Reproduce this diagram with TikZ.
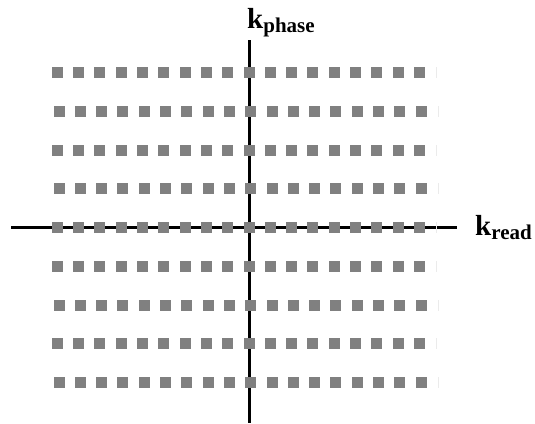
\documentclass[tikz,border=0pt]{standalone}
\usepackage{fontspec}
\setmainfont{Liberation Serif}
\tikzset{
  axis/.style={line width=3pt, black},
  sample/.style={fill=gray!100!white, fill=black!50},
  stub/.style={fill=black!8},
  lbl/.style={inner sep=0pt, anchor=base west, font=\bfseries}
}
\begin{document}
\begin{tikzpicture}[x=1pt,y=-1pt]
\useasboundingbox (0,0) rectangle (535,423);
\coordinate (hl) at (11,227);
\coordinate (hr) at (457,227);
\coordinate (vt) at (249,40);
\coordinate (vb) at (249,423);
\draw[axis] (hl) -- (hr);
\draw[axis] (vt) -- (vb);
\foreach \j/\off in {0/0,1/1.7,2/0,3/1.7,4/0,5/0,6/1.7,7/0,8/1.7}{
  \pgfmathsetmacro{\yy}{72.5+\j*38.75}
  \foreach \i in {0,...,17}{
    \pgfmathsetmacro{\xx}{249+(\i-9)*21.3+\off}
    \fill[sample] (\xx-5.5,\yy-5.5) rectangle (\xx+5.5,\yy+5.5);
  }
  \fill[stub] (436+\off,\yy-5.5) rectangle (437.2+\off,\yy+5.5);
}
\node[lbl] (kphase) at (247,28) {\fontsize{29}{29}\selectfont k\raisebox{-4pt}{\fontsize{21}{21}\selectfont phase}};
\node[lbl] (kread) at (475,235) {\fontsize{29}{29}\selectfont k\raisebox{-4pt}{\fontsize{21}{21}\selectfont read}};
\end{tikzpicture}
\end{document}
